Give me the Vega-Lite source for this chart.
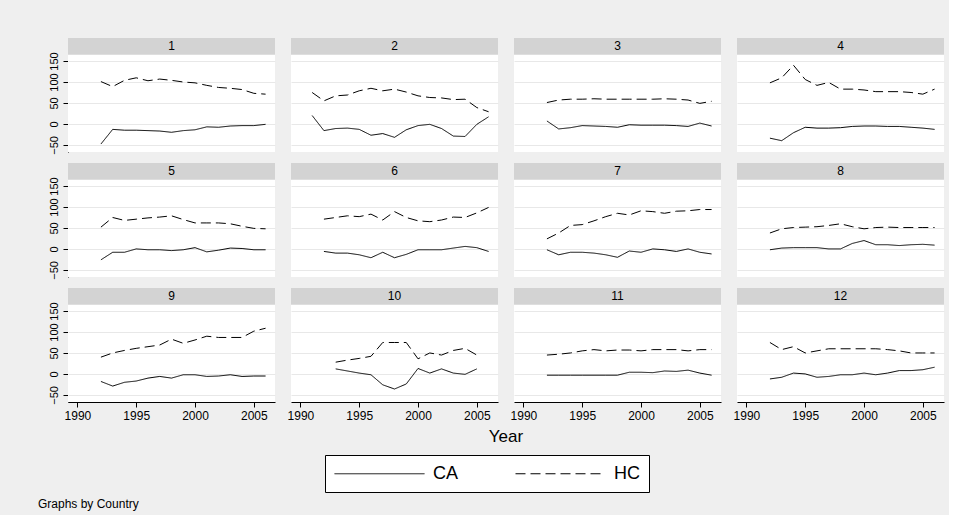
{
  "$schema": "https://vega.github.io/schema/vega-lite/v6.json",
  "background": "#efefef",
  "padding": {"left": 38, "top": 38, "right": 5, "bottom": 5},
  "data": {"values": [
    {"c":1,"y":1992,"CA":-48,"HC":101},{"c":1,"y":1993,"CA":-13,"HC":89},{"c":1,"y":1994,"CA":-15,"HC":104},{"c":1,"y":1995,"CA":-15,"HC":110},{"c":1,"y":1996,"CA":-16,"HC":103},{"c":1,"y":1997,"CA":-17,"HC":107},{"c":1,"y":1998,"CA":-20,"HC":104},{"c":1,"y":1999,"CA":-16,"HC":100},{"c":1,"y":2000,"CA":-14,"HC":98},{"c":1,"y":2001,"CA":-7,"HC":92},{"c":1,"y":2002,"CA":-8,"HC":87},{"c":1,"y":2003,"CA":-5,"HC":85},{"c":1,"y":2004,"CA":-4,"HC":82},{"c":1,"y":2005,"CA":-4,"HC":73},{"c":1,"y":2006,"CA":-1,"HC":71},
    {"c":2,"y":1991,"CA":20,"HC":75},{"c":2,"y":1992,"CA":-16,"HC":55},{"c":2,"y":1993,"CA":-11,"HC":67},{"c":2,"y":1994,"CA":-10,"HC":69},{"c":2,"y":1995,"CA":-13,"HC":79},{"c":2,"y":1996,"CA":-27,"HC":85},{"c":2,"y":1997,"CA":-23,"HC":79},{"c":2,"y":1998,"CA":-32,"HC":83},{"c":2,"y":1999,"CA":-14,"HC":76},{"c":2,"y":2000,"CA":-4,"HC":67},{"c":2,"y":2001,"CA":-1,"HC":63},{"c":2,"y":2002,"CA":-11,"HC":62},{"c":2,"y":2003,"CA":-29,"HC":58},{"c":2,"y":2004,"CA":-30,"HC":59},{"c":2,"y":2005,"CA":-1,"HC":39},{"c":2,"y":2006,"CA":17,"HC":29},
    {"c":3,"y":1992,"CA":7,"HC":51},{"c":3,"y":1993,"CA":-12,"HC":57},{"c":3,"y":1994,"CA":-9,"HC":59},{"c":3,"y":1995,"CA":-4,"HC":59},{"c":3,"y":1996,"CA":-5,"HC":60},{"c":3,"y":1997,"CA":-6,"HC":59},{"c":3,"y":1998,"CA":-8,"HC":59},{"c":3,"y":1999,"CA":-2,"HC":59},{"c":3,"y":2000,"CA":-3,"HC":59},{"c":3,"y":2001,"CA":-3,"HC":59},{"c":3,"y":2002,"CA":-3,"HC":60},{"c":3,"y":2003,"CA":-4,"HC":59},{"c":3,"y":2004,"CA":-6,"HC":57},{"c":3,"y":2005,"CA":2,"HC":49},{"c":3,"y":2006,"CA":-5,"HC":54},
    {"c":4,"y":1992,"CA":-34,"HC":98},{"c":4,"y":1993,"CA":-40,"HC":110},{"c":4,"y":1994,"CA":-21,"HC":140},{"c":4,"y":1995,"CA":-8,"HC":106},{"c":4,"y":1996,"CA":-10,"HC":92},{"c":4,"y":1997,"CA":-10,"HC":99},{"c":4,"y":1998,"CA":-9,"HC":83},{"c":4,"y":1999,"CA":-6,"HC":83},{"c":4,"y":2000,"CA":-5,"HC":81},{"c":4,"y":2001,"CA":-5,"HC":77},{"c":4,"y":2002,"CA":-6,"HC":77},{"c":4,"y":2003,"CA":-6,"HC":77},{"c":4,"y":2004,"CA":-8,"HC":75},{"c":4,"y":2005,"CA":-10,"HC":71},{"c":4,"y":2006,"CA":-13,"HC":83},
    {"c":5,"y":1992,"CA":-26,"HC":52},{"c":5,"y":1993,"CA":-8,"HC":75},{"c":5,"y":1994,"CA":-8,"HC":68},{"c":5,"y":1995,"CA":0,"HC":71},{"c":5,"y":1996,"CA":-2,"HC":74},{"c":5,"y":1997,"CA":-2,"HC":76},{"c":5,"y":1998,"CA":-4,"HC":79},{"c":5,"y":1999,"CA":-2,"HC":70},{"c":5,"y":2000,"CA":3,"HC":62},{"c":5,"y":2001,"CA":-7,"HC":62},{"c":5,"y":2002,"CA":-3,"HC":62},{"c":5,"y":2003,"CA":2,"HC":60},{"c":5,"y":2004,"CA":1,"HC":54},{"c":5,"y":2005,"CA":-2,"HC":49},{"c":5,"y":2006,"CA":-2,"HC":48},
    {"c":6,"y":1992,"CA":-6,"HC":71},{"c":6,"y":1993,"CA":-10,"HC":75},{"c":6,"y":1994,"CA":-10,"HC":79},{"c":6,"y":1995,"CA":-14,"HC":77},{"c":6,"y":1996,"CA":-21,"HC":83},{"c":6,"y":1997,"CA":-8,"HC":69},{"c":6,"y":1998,"CA":-21,"HC":89},{"c":6,"y":1999,"CA":-13,"HC":75},{"c":6,"y":2000,"CA":-2,"HC":67},{"c":6,"y":2001,"CA":-2,"HC":65},{"c":6,"y":2002,"CA":-2,"HC":69},{"c":6,"y":2003,"CA":2,"HC":76},{"c":6,"y":2004,"CA":6,"HC":75},{"c":6,"y":2005,"CA":3,"HC":86},{"c":6,"y":2006,"CA":-6,"HC":99},
    {"c":7,"y":1992,"CA":-2,"HC":24},{"c":7,"y":1993,"CA":-14,"HC":38},{"c":7,"y":1994,"CA":-8,"HC":56},{"c":7,"y":1995,"CA":-8,"HC":58},{"c":7,"y":1996,"CA":-10,"HC":67},{"c":7,"y":1997,"CA":-14,"HC":77},{"c":7,"y":1998,"CA":-20,"HC":85},{"c":7,"y":1999,"CA":-5,"HC":81},{"c":7,"y":2000,"CA":-8,"HC":91},{"c":7,"y":2001,"CA":0,"HC":89},{"c":7,"y":2002,"CA":-2,"HC":85},{"c":7,"y":2003,"CA":-6,"HC":90},{"c":7,"y":2004,"CA":0,"HC":91},{"c":7,"y":2005,"CA":-8,"HC":94},{"c":7,"y":2006,"CA":-12,"HC":94},
    {"c":8,"y":1992,"CA":-2,"HC":38},{"c":8,"y":1993,"CA":2,"HC":48},{"c":8,"y":1994,"CA":3,"HC":51},{"c":8,"y":1995,"CA":3,"HC":52},{"c":8,"y":1996,"CA":3,"HC":53},{"c":8,"y":1997,"CA":0,"HC":56},{"c":8,"y":1998,"CA":0,"HC":60},{"c":8,"y":1999,"CA":13,"HC":53},{"c":8,"y":2000,"CA":20,"HC":48},{"c":8,"y":2001,"CA":10,"HC":51},{"c":8,"y":2002,"CA":10,"HC":52},{"c":8,"y":2003,"CA":8,"HC":51},{"c":8,"y":2004,"CA":10,"HC":51},{"c":8,"y":2005,"CA":11,"HC":51},{"c":8,"y":2006,"CA":9,"HC":51},
    {"c":9,"y":1992,"CA":-18,"HC":40},{"c":9,"y":1993,"CA":-29,"HC":50},{"c":9,"y":1994,"CA":-20,"HC":56},{"c":9,"y":1995,"CA":-17,"HC":61},{"c":9,"y":1996,"CA":-10,"HC":65},{"c":9,"y":1997,"CA":-6,"HC":69},{"c":9,"y":1998,"CA":-10,"HC":83},{"c":9,"y":1999,"CA":-2,"HC":73},{"c":9,"y":2000,"CA":-2,"HC":81},{"c":9,"y":2001,"CA":-6,"HC":90},{"c":9,"y":2002,"CA":-5,"HC":87},{"c":9,"y":2003,"CA":-2,"HC":87},{"c":9,"y":2004,"CA":-6,"HC":87},{"c":9,"y":2005,"CA":-5,"HC":102},{"c":9,"y":2006,"CA":-5,"HC":109},
    {"c":10,"y":1993,"CA":12,"HC":28},{"c":10,"y":1994,"CA":7,"HC":33},{"c":10,"y":1995,"CA":2,"HC":37},{"c":10,"y":1996,"CA":-2,"HC":42},{"c":10,"y":1997,"CA":-26,"HC":75},{"c":10,"y":1998,"CA":-36,"HC":75},{"c":10,"y":1999,"CA":-24,"HC":75},{"c":10,"y":2000,"CA":13,"HC":36},{"c":10,"y":2001,"CA":2,"HC":50},{"c":10,"y":2002,"CA":12,"HC":45},{"c":10,"y":2003,"CA":2,"HC":56},{"c":10,"y":2004,"CA":-1,"HC":61},{"c":10,"y":2005,"CA":12,"HC":45},
    {"c":11,"y":1992,"CA":-3,"HC":45},{"c":11,"y":1993,"CA":-3,"HC":47},{"c":11,"y":1994,"CA":-3,"HC":50},{"c":11,"y":1995,"CA":-3,"HC":55},{"c":11,"y":1996,"CA":-3,"HC":58},{"c":11,"y":1997,"CA":-3,"HC":55},{"c":11,"y":1998,"CA":-3,"HC":57},{"c":11,"y":1999,"CA":4,"HC":57},{"c":11,"y":2000,"CA":4,"HC":55},{"c":11,"y":2001,"CA":3,"HC":58},{"c":11,"y":2002,"CA":7,"HC":58},{"c":11,"y":2003,"CA":6,"HC":58},{"c":11,"y":2004,"CA":9,"HC":55},{"c":11,"y":2005,"CA":2,"HC":58},{"c":11,"y":2006,"CA":-3,"HC":58},
    {"c":12,"y":1992,"CA":-12,"HC":75},{"c":12,"y":1993,"CA":-8,"HC":58},{"c":12,"y":1994,"CA":2,"HC":65},{"c":12,"y":1995,"CA":0,"HC":50},{"c":12,"y":1996,"CA":-8,"HC":55},{"c":12,"y":1997,"CA":-6,"HC":60},{"c":12,"y":1998,"CA":-2,"HC":60},{"c":12,"y":1999,"CA":-2,"HC":60},{"c":12,"y":2000,"CA":2,"HC":60},{"c":12,"y":2001,"CA":-2,"HC":60},{"c":12,"y":2002,"CA":2,"HC":58},{"c":12,"y":2003,"CA":8,"HC":55},{"c":12,"y":2004,"CA":8,"HC":50},{"c":12,"y":2005,"CA":10,"HC":50},{"c":12,"y":2006,"CA":16,"HC":50}
  ]},
  "transform": [{"fold": ["CA", "HC"], "as": ["Series", "Value"]}],
  "facet": {
    "field": "c", "type": "ordinal",
    "header": {"title": "Year", "titleOrient": "bottom", "labels": false, "labelFontSize": 0, "labelPadding": 0, "labelExpr": "''", "titleFont": "Liberation Sans", "titleFontSize": 17, "titleFontWeight": "normal", "titleColor": "black", "titlePadding": 8}
  },
  "columns": 4,
  "spacing": {"row": 11, "column": 16},
  "title": {"text": "Graphs by Country", "orient": "bottom", "anchor": "start", "font": "Liberation Sans", "fontSize": 12, "fontWeight": "normal", "color": "black", "offset": 6, "dx": -10},
  "spec": {
    "width": 207,
    "height": 114,
    "layer": [
      {
        "mark": {"type": "line", "color": "black", "strokeWidth": 1},
        "encoding": {
          "x": {"field": "y", "type": "quantitative",
                "scale": {"domain": [1989.2, 2006.8], "nice": false, "zero": false},
                "axis": {"title": null, "values": [1990, 1995, 2000, 2005], "format": "d", "grid": false, "domainColor": "black", "tickColor": "black", "tickSize": 5, "labelFont": "Liberation Sans", "labelFontSize": 12, "labelColor": "black", "labelPadding": 3, "labelOverlap": false, "zindex": 0}},
          "y": {"field": "Value", "type": "quantitative",
                "scale": {"domain": [-67, 205], "nice": false, "zero": false},
                "axis": {"title": null, "values": [-50, 0, 50, 100, 150], "labelAngle": 270, "labelAlign": "center", "labelBaseline": "bottom", "labelOverlap": false, "labelBound": false, "labelFlush": false, "grid": true, "gridColor": "#e8e8e8", "gridWidth": 1, "domainColor": "black", "tickColor": "black", "tickSize": 5, "labelFont": "Liberation Sans", "labelFontSize": 11, "labelColor": "black", "labelPadding": 4, "zindex": 0}},
          "strokeDash": {"field": "Series", "type": "nominal",
                "scale": {"domain": ["CA", "HC"], "range": [[1, 0], [10, 5]]},
                "legend": {"title": null, "orient": "none", "direction": "horizontal", "legendX": 257, "legendY": 417, "symbolType": "M-1,0H9", "symbolSize": 324, "symbolStrokeWidth": 1, "symbolStrokeColor": "black", "symbolFillColor": "transparent", "labelFont": "Liberation Sans", "labelFontSize": 18, "labelColor": "black", "labelOffset": 80, "columnPadding": 54, "strokeColor": "black", "fillColor": "white", "padding": 9}},
          "detail": {"field": "Series"}
        }
      },
      {
        "transform": [{"aggregate": [{"op": "count", "as": "n"}], "groupby": ["c"]}],
        "mark": {"type": "rect", "color": "#d3d3d3"},
        "encoding": {
          "x": {"datum": 1989.2, "type": "quantitative", "axis": {"title": null, "values": [1990, 1995, 2000, 2005], "format": "d", "grid": false, "domainColor": "black", "tickColor": "black", "tickSize": 5, "labelFont": "Liberation Sans", "labelFontSize": 12, "labelColor": "black", "labelPadding": 3, "labelOverlap": false, "zindex": 0}},
          "x2": {"datum": 2006.8},
          "y": {"datum": 165, "type": "quantitative", "axis": {"title": null, "values": [-50, 0, 50, 100, 150], "labelAngle": 270, "labelAlign": "center", "labelBaseline": "bottom", "labelOverlap": false, "labelBound": false, "labelFlush": false, "grid": true, "gridColor": "#e8e8e8", "gridWidth": 1, "domainColor": "black", "tickColor": "black", "tickSize": 5, "labelFont": "Liberation Sans", "labelFontSize": 11, "labelColor": "black", "labelPadding": 4, "zindex": 0}},
          "y2": {"datum": 205}
        }
      },
      {
        "transform": [{"aggregate": [{"op": "count", "as": "n"}], "groupby": ["c"]}],
        "mark": {"type": "text", "font": "Liberation Sans", "fontSize": 12, "color": "black", "baseline": "middle", "align": "center"},
        "encoding": {
          "x": {"datum": 1998, "type": "quantitative", "axis": {"title": null, "values": [1990, 1995, 2000, 2005], "format": "d", "grid": false, "domainColor": "black", "tickColor": "black", "tickSize": 5, "labelFont": "Liberation Sans", "labelFontSize": 12, "labelColor": "black", "labelPadding": 3, "labelOverlap": false, "zindex": 0}},
          "y": {"datum": 185, "type": "quantitative", "axis": {"title": null, "values": [-50, 0, 50, 100, 150], "labelAngle": 270, "labelAlign": "center", "labelBaseline": "bottom", "labelOverlap": false, "labelBound": false, "labelFlush": false, "grid": true, "gridColor": "#e8e8e8", "gridWidth": 1, "domainColor": "black", "tickColor": "black", "tickSize": 5, "labelFont": "Liberation Sans", "labelFontSize": 11, "labelColor": "black", "labelPadding": 4, "zindex": 0}},
          "text": {"field": "c", "type": "nominal"}
        }
      }
    ]
  },
  "config": {"view": {"fill": "white", "stroke": null}, "header": {"labels": false}, "axis": {"labelOverlap": false}}
}
